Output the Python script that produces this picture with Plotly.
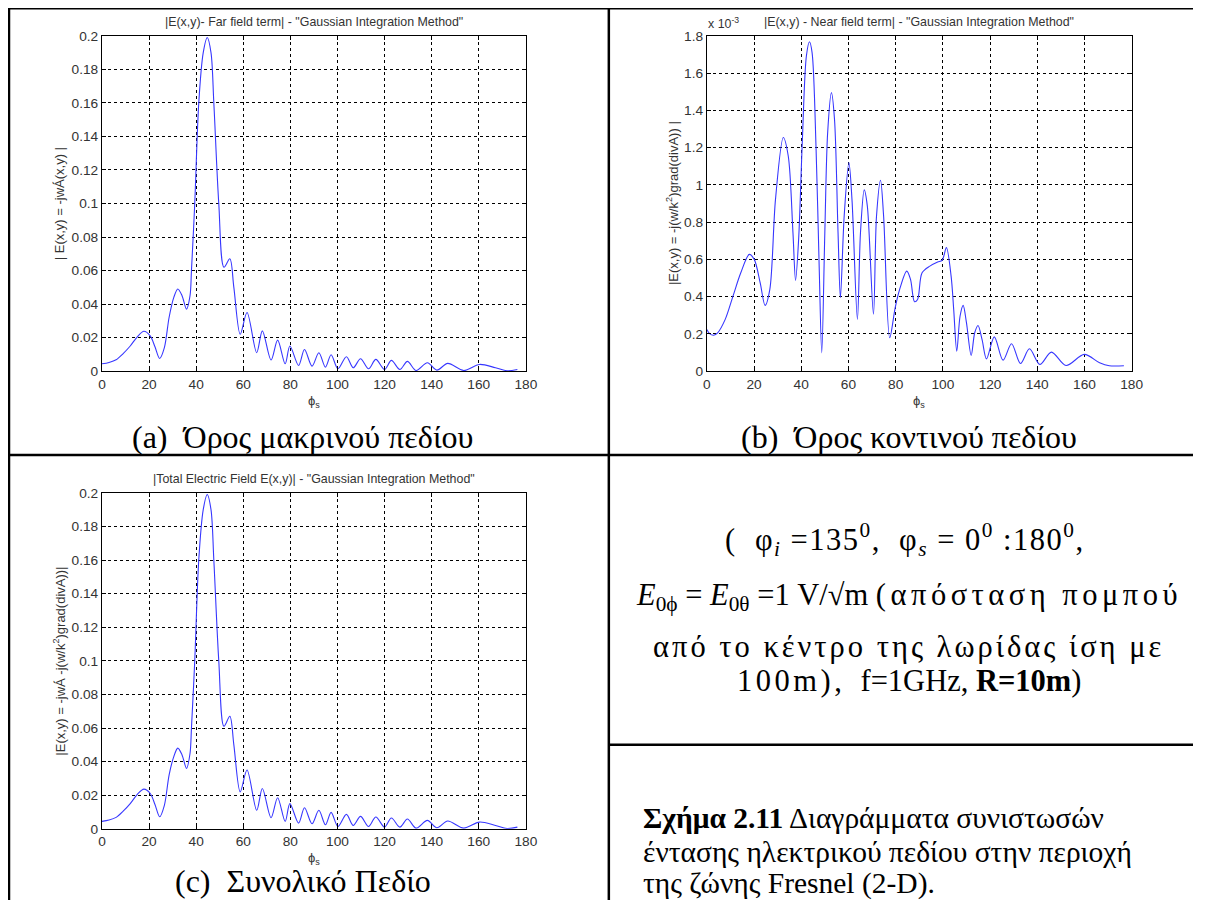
import plotly.graph_objects as go

# ---------------- data ----------------
phi_far = [0, 3, 6, 9, 12, 15, 17.8, 20.5, 22.5, 24.5, 26.5, 28.5, 30.5, 32.2, 34, 35.9,
           37.4, 38.0, 39.4, 41.1, 43.0, 44.7, 46.3, 47.5, 49.6, 51.8, 54.3, 56.0, 58.7,
           61.6, 65.7, 68.1, 71.8, 74.6, 77.8, 79.8, 83.5, 86.0, 89.2, 92.1, 94.9, 97.3,
           100.2, 103.8, 106.7, 109.8, 113.2, 116.3, 120, 122.9, 126.5, 129.7, 133.4,
           138.2, 142.2, 146.8, 153.6, 160.3, 167.1, 172, 176.4]
E_far = [0.0044, 0.0052, 0.0068, 0.0105, 0.015, 0.0205, 0.0238, 0.021, 0.0145, 0.0075,
         0.014, 0.032, 0.044, 0.049, 0.045, 0.037, 0.045, 0.06, 0.10, 0.16, 0.19, 0.199,
         0.19, 0.16, 0.10, 0.062, 0.067, 0.05, 0.022, 0.035, 0.011, 0.024, 0.0066, 0.0185,
         0.0044, 0.015, 0.0034, 0.0129, 0.003, 0.011, 0.0024, 0.0098, 0.0014, 0.0086,
         0.002, 0.0074, 0.0014, 0.007, 0.001, 0.0064, 0.001, 0.0058, 0.0004, 0.005,
         0.0006, 0.0046, 0.0004, 0.004, 0.002, 0.0002, 0.001]

# near field term, in units of 1e-3
phi_near = [0, 1.3, 2.9, 4.6, 7.8, 11.1, 14.4, 18.0, 20.1, 22.6, 24.7, 26.7, 29.1, 32.4,
            34.5, 36.5, 37.6, 38.9, 40.5, 42.2, 43.5, 44.6, 46.3, 47.6, 48.7, 50.0, 51.2,
            52.8, 54.1, 55.6, 56.6, 58.2, 60.2, 61.5, 63.8, 65.1, 66.7, 68.0, 70.6, 71.9,
            73.6, 74.9, 77.5, 79.8, 81.7, 84.7, 86.3, 88.0, 89.3, 91.2, 94.5, 97.8, 99.7,
            101.5, 103.5, 104.6, 105.9, 107.3, 108.6, 110.0, 112.0, 113.5, 114.9, 116.6,
            118.5, 121.8, 125.5, 129.1, 132.9, 136.7, 141.1, 146.0, 152.2, 159.9, 166.4,
            170.5, 176.7]
E_near_e3 = [0.224, 0.200, 0.193, 0.206, 0.278, 0.403, 0.528, 0.627, 0.600, 0.475, 0.353,
             0.439, 0.922, 1.254, 1.155, 0.743, 0.487, 0.707, 1.245, 1.693, 1.768, 1.710,
             1.190, 0.564, 0.098, 0.743, 1.280, 1.495, 1.352, 0.743, 0.394, 0.833, 1.120,
             0.922, 0.278, 0.743, 0.973, 0.887, 0.305, 0.833, 1.025, 0.833, 0.179, 0.340,
             0.439, 0.537, 0.493, 0.373, 0.385, 0.528, 0.564, 0.586, 0.595, 0.663, 0.510,
             0.331, 0.107, 0.296, 0.353, 0.260, 0.084, 0.206, 0.245, 0.170, 0.066, 0.184,
             0.059, 0.147, 0.041, 0.120, 0.036, 0.102, 0.030, 0.090, 0.045, 0.029, 0.029]

phi_total = list(phi_far)
E_total = [0.0044, 0.0052, 0.0068, 0.0105, 0.015, 0.0205, 0.0236, 0.021, 0.0145, 0.0072,
           0.014, 0.032, 0.043, 0.048, 0.044, 0.036, 0.045, 0.06, 0.10, 0.16, 0.19, 0.199,
           0.19, 0.16, 0.10, 0.061, 0.067, 0.05, 0.022, 0.035, 0.011, 0.024, 0.0066, 0.0185,
           0.0044, 0.015, 0.0034, 0.0125, 0.003, 0.011, 0.0024, 0.0098, 0.0014, 0.0086,
           0.002, 0.0074, 0.0014, 0.007, 0.001, 0.0064, 0.001, 0.0058, 0.0004, 0.005,
           0.0006, 0.0046, 0.0004, 0.004, 0.002, 0.0002, 0.001]

x_ticks = [0, 20, 40, 60, 80, 100, 120, 140, 160, 180]
y_ticks_far = [0, 0.02, 0.04, 0.06, 0.08, 0.1, 0.12, 0.14, 0.16, 0.18, 0.2]
y_ticks_near = [0, 0.2, 0.4, 0.6, 0.8, 1, 1.2, 1.4, 1.6, 1.8]
y_ticklabels_far = ["0", "0.02", "0.04", "0.06", "0.08", "0.1", "0.12", "0.14", "0.16", "0.18", "0.2"]
y_ticklabels_near = ["0", "0.2", "0.4", "0.6", "0.8", "1", "1.2", "1.4", "1.6", "1.8"]

# ---------------- layout helpers ----------------
# Geometry is given in pixels of the reference picture and mapped onto the
# 1205 x 908 figure (the photographed picture is slightly inset and scaled).
W, H = 1205, 908
SX, SY = 0.987, 908 / 924
OX, OY = 2.0, 8 * 908 / 924
def px(x):
    return ((x - OX) / SX) / W
def py(y):
    return 1 - ((y - OY) / SY) / H

LINE_COLOR = "rgb(55,55,255)"
SANS = "Liberation Sans, Arial, sans-serif"
SERIF = "Liberation Serif, Times New Roman, serif"
TICK_SIZE = 13.7

fig = go.Figure()
for xs, ys, xa, ya in [(phi_far, E_far, "x", "y"), (phi_near, E_near_e3, "x2", "y2"),
                       (phi_total, E_total, "x3", "y3")]:
    fig.add_trace(go.Scatter(x=xs, y=ys, mode="lines",
                             line=dict(color=LINE_COLOR, width=1.1, shape="spline", smoothing=0.9),
                             xaxis=xa, yaxis=ya, showlegend=False, hoverinfo="x+y"))

def xaxis_cfg(dom, anchor):
    return dict(domain=dom, anchor=anchor, range=[0, 180], tickvals=x_ticks,
                ticktext=[str(t) for t in x_ticks], ticks="inside", ticklen=4, tickcolor="black",
                showline=True, linecolor="black", linewidth=1, mirror="ticks",
                showgrid=True, gridcolor="black", griddash="dot", gridwidth=1,
                zeroline=False, tickfont=dict(family=SANS, size=TICK_SIZE, color="#333"))

def yaxis_cfg(dom, anchor, rng, vals, texts):
    return dict(domain=dom, anchor=anchor, range=rng, tickvals=vals, ticktext=texts,
                ticks="inside", ticklen=4, tickcolor="black",
                showline=True, linecolor="black", linewidth=1, mirror="ticks",
                showgrid=True, gridcolor="black", griddash="dot", gridwidth=1,
                zeroline=False, tickfont=dict(family=SANS, size=TICK_SIZE, color="#333"))

xa_dom = [px(100), px(524)]
xb_dom = [px(705), px(1130)]
top_dom = [py(371.7), py(36.7)]
bot_dom = [py(829), py(493.3)]

fig.update_layout(
    autosize=True, margin=dict(l=0, r=0, t=0, b=0),
    paper_bgcolor="white", plot_bgcolor="white",
    xaxis=xaxis_cfg(xa_dom, "y"),
    yaxis=yaxis_cfg(top_dom, "x", [0, 0.2], y_ticks_far, y_ticklabels_far),
    xaxis2=xaxis_cfg(xb_dom, "y2"),
    yaxis2=yaxis_cfg(top_dom, "x2", [0, 1.8], y_ticks_near, y_ticklabels_near),
    xaxis3=xaxis_cfg(xa_dom, "y3"),
    yaxis3=yaxis_cfg(bot_dom, "x3", [0, 0.2], y_ticks_far, y_ticklabels_far),
)

ann = []
def A(x, y, text, size, family=SANS, color="black", xanchor="center", angle=0):
    ann.append(dict(x=px(x), y=py(y), xref="paper", yref="paper", text=text, showarrow=False,
                    font=dict(family=family, size=size, color=color), xanchor=xanchor,
                    yanchor="middle", textangle=angle))

def spaced(t, s=3):
    return '<span style="letter-spacing:%spx">%s</span>' % (s, t)

# plot titles
A(312, 23, '|E(x,y)- Far field term| - "Gaussian Integration Method"', 12.4, color="#333")
A(917, 23, '|E(x,y) - Near field term| - "Gaussian Integration Method"', 12.4, color="#333")
A(312, 479, '|Total Electric Field E(x,y)| - "Gaussian Integration Method"', 12.4, color="#333")
# multiplier
A(704, 24, "x 10<sup>-3</sup>", 12.4, color="#333", xanchor="left")
# x labels
A(312, 402, "ϕ<sub>s</sub>", 13, color="#333")
A(917, 402, "ϕ<sub>s</sub>", 13, color="#333")
A(312, 859, "ϕ<sub>s</sub>", 13, color="#333")
# y labels
A(57, 204, "| E(x,y) = -jwÁ(x,y) |", 13, color="#333", angle=-90)
A(671, 204, "|E(x,y) = -j(w/k<sup>2</sup>)grad(divA)) |", 13, color="#333", angle=-90)
A(57, 661, "|E(x,y) = -jwÁ -j(w/k<sup>2</sup>)grad(divA))|", 13, color="#333", angle=-90)
# captions
CAP = 32
A(301, 438, "(a)  Όρος μακρινού πεδίου", CAP, family=SERIF)
A(907, 438, "(b)  Όρος κοντινού πεδίου", CAP, family=SERIF)
A(301, 881, "(c)  Συνολικό Πεδίο", CAP, family=SERIF)

# description cell
TXT = 30.5
A(903, 540, spaced("(  φ<sub><i>i</i></sub> =135<sup>0</sup>,  φ<sub><i>s</i></sub> = 0<sup>0</sup> :180<sup>0</sup>,", 1.5), TXT, family=SERIF)
A(907, 597, "<i>E</i><sub>0ϕ</sub> = <i>E</i><sub>0θ</sub> =1 V/√m " + spaced("(απόσταση πομπού", 4.5), TXT, family=SERIF)
A(907, 647, spaced("από το κέντρο της λωρίδας ίση με", 3), TXT, family=SERIF)
A(907, 681, spaced("100m),", 3.5) + "  f=1GHz, <b>R=10m</b>)", TXT, family=SERIF)
BT = 29.5
A(639, 818, "<b>Σχήμα 2.11</b> Διαγράμματα συνιστωσών", BT, family=SERIF, xanchor="left")
A(639, 852, "έντασης ηλεκτρικού πεδίου στην περιοχή", BT, family=SERIF, xanchor="left")
A(639, 884, "της ζώνης Fresnel (2-D).", BT, family=SERIF, xanchor="left")
fig.update_layout(annotations=ann)

# table borders
shapes = []
def L(x0, y0, x1, y1, color="black", width=2.5):
    shapes.append(dict(type="line", xref="paper", yref="paper", x0=x0, y0=y0,
                       x1=x1, y1=y1, line=dict(color=color, width=width)))
TOP_Y = 1 - 1.3 / H
L(0, TOP_Y, 1, TOP_Y)
L(px(7), 0, px(7), TOP_Y)
L(px(607), 0, px(607), TOP_Y)
L(0, py(455.5), 1, py(455.5))
L(px(607), py(745), 1, py(745))
fig.update_layout(shapes=shapes)

# the plot div is 1205x908 and cancels the page's default 8px body margin
fig.write_html("out.html", config={"displayModeBar": False},
               default_width="%dpx; margin:-8px" % W, default_height="%dpx" % H)
